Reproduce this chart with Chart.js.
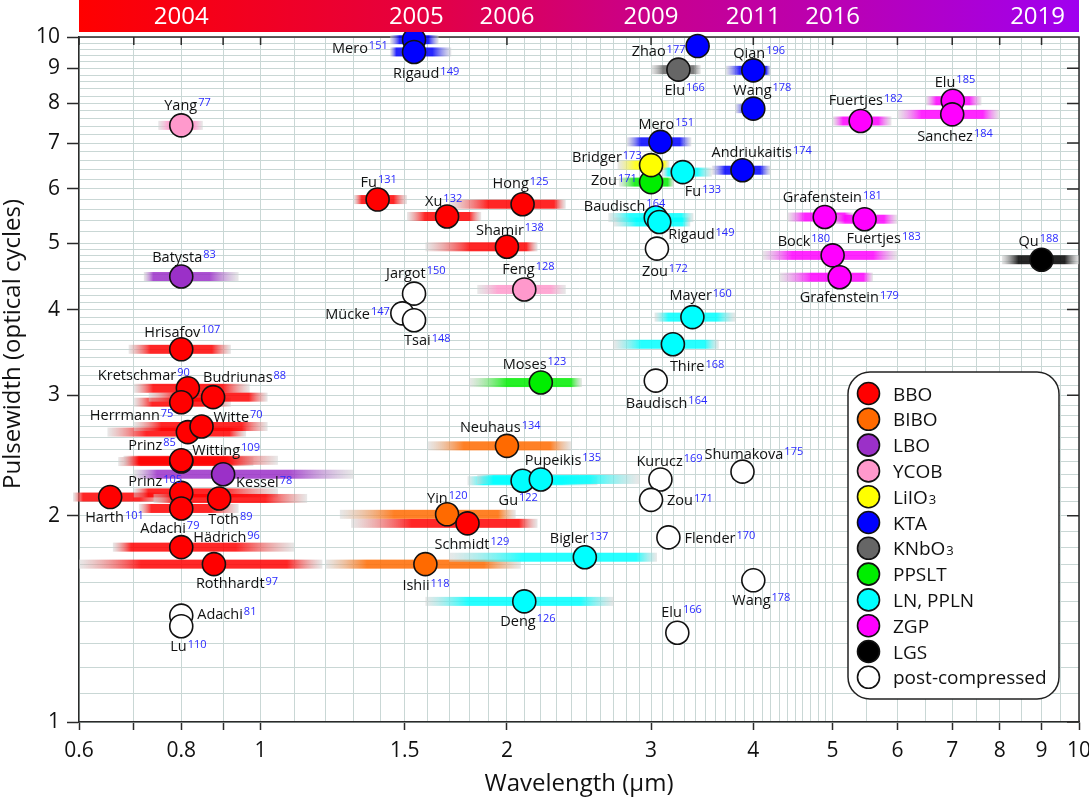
<!DOCTYPE html>
<html><head><meta charset="utf-8">
<script src="https://cdn.jsdelivr.net/npm/chart.js@4.4.0/dist/chart.umd.min.js"></script>
<style>html,body{margin:0;padding:0;background:#fff;}canvas{display:block;}</style>
</head><body>
<canvas id="c" width="1089" height="800"></canvas>
<script>
// ---------- data ----------
const materials = ['BBO','BIBO','LBO','YCOB','LiIO3','KTA','KNbO3','PPSLT','LN, PPLN','ZGP','LGS','post-compressed'];
const materialColors = ['#ff0000','#ff6a00','#9b30c8','#ff99cc','#ffff00','#0000ff','#666666','#00ee00','#00ffff','#ff00ff','#000000','#ffffff'];

const authors = ['Harth','Prinz','Adachi','Toth','Prinz','Witting','Herrmann','Witte','Kretschmar','','Budriunas','Hrisafov','Hädrich','Rothhardt','Fu','Xu','Hong','Shamir','Schmidt',
  'Yin','Neuhaus','Ishii','Batysta','Kessel','Yang','Feng','Bridger',
  'Mero','Rigaud','Zhao','Qian','Wang','Mero','Andriukaitis','Elu','Zou','Moses',
  'Fu','Baudisch','Rigaud','Mayer','Thire','Gu','Pupeikis','Bigler','Deng',
  'Elu','Sanchez','Fuertjes','Grafenstein','Fuertjes','Bock','Grafenstein','Qu',
  'Jargot','Mücke','Tsai','Zou','Baudisch','Kurucz','Zou','Shumakova','Flender','Wang','Elu','Adachi','Lu'];
const refs = ['101','105','79','89','85','109','75','70','90','','88','107','96','97','131','132','125','138','129',
  '120','134','118','83','78','77','128','173',
  '151','149','177','196','178','151','174','166','171','123',
  '133','164','149','160','168','122','135','137','126',
  '185','184','182','181','183','180','179','188',
  '150','147','148','172','164','169','171','175','170','178','166','81','110'];
const material = [0,0,0,0,0,0,0,0,0,0,0,0,0,0,0,0,0,0,0,
  1,1,1,2,2,3,3,4,
  5,5,5,5,5,5,5,6,7,7,
  8,8,8,8,8,8,8,8,8,
  9,9,9,9,9,9,9,10,
  11,11,11,11,11,11,11,11,11,11,11,11,11];
const wavelength = [0.655,0.80,0.80,0.89,0.80,0.80,0.815,0.847,0.815,0.80,0.875,0.80,0.80,0.877,1.39,1.69,2.09,2.00,1.79,
  1.69,2.00,1.59,0.80,0.90,0.80,2.10,3.00,
  1.54,1.54,3.42,4.00,4.00,3.08,3.88,3.24,3.00,2.20,
  3.28,3.04,3.07,3.37,3.19,2.09,2.20,2.49,2.10,
  7.01,7.00,5.41,4.89,5.47,5.00,5.10,9.0,
  1.54,1.49,1.54,3.05,3.04,3.08,3.00,3.88,3.15,4.00,3.23,0.80,0.80];
const cycles = [2.13,2.16,2.05,2.12,2.40,2.41,2.65,2.70,3.07,2.93,2.98,3.50,1.80,1.70,5.79,5.47,5.70,4.94,1.95,
  2.01,2.53,1.70,4.47,2.30,7.43,4.28,6.50,
  9.91,9.51,9.70,8.94,7.86,7.03,6.39,8.96,6.14,3.13,
  6.35,5.45,5.37,3.90,3.56,2.25,2.26,1.74,1.50,
  8.07,7.71,7.54,5.46,5.42,4.80,4.46,4.73,
  4.22,3.95,3.86,4.91,3.15,2.26,2.11,2.32,1.86,1.61,1.35,1.43,1.38];
const bandLo = [0.59,0.70,0.71,0.74,0.67,0.68,0.65,0.70,0.70,0.70,0.73,0.69,0.66,0.60,1.30,1.51,1.70,1.59,1.29,
  1.25,1.60,1.20,0.72,0.70,0.75,1.84,2.73,
  1.44,1.44,null,3.70,3.80,2.80,3.56,3.00,2.74,1.80,
  3.10,2.66,2.70,3.03,2.70,1.79,1.84,1.70,1.59,
  6.5,6.0,5.0,4.4,5.0,4.1,4.3,8.05,
  null,null,null,null,null,null,null,null,null,null,null,null,null];
const bandHi = [0.78,1.05,0.94,1.14,0.98,1.05,0.96,1.02,0.97,0.92,1.02,0.92,1.10,1.19,1.51,1.86,2.36,2.18,2.18,
  2.05,2.40,2.08,0.94,1.30,0.85,2.36,3.16,
  1.65,1.71,null,4.20,4.10,3.36,4.20,3.45,3.20,2.47,
  3.56,3.38,3.35,3.80,3.63,2.58,2.90,3.05,2.70,
  7.6,8.0,5.9,5.3,6.0,6.0,5.6,10.0,
  null,null,null,null,null,null,null,null,null,null,null,null,null];

const xGridValues = [];
for (let v = 6; v <= 50; v++) xGridValues.push(v / 10);
for (let v = 11; v <= 20; v++) xGridValues.push(v / 2);
const xTickLabels = [0.6, 0.8, 1, 1.5, 2, 3, 4, 5, 6, 7, 8, 9, 10];
const xTickMarks = [0.6, 0.7, 0.8, 0.9, 1, 1.5, 2, 3, 4, 5, 6, 7, 8, 9, 10];
const yGridValues = [];
for (let v = 10; v <= 50; v++) yGridValues.push(v / 10);
for (let v = 26; v <= 50; v++) yGridValues.push(v / 5);
const yTickLabels = [1, 2, 3, 4, 5, 6, 7, 8, 9, 10];

const yearLabels = ['2004','2005','2006','2009','2011','2016','2019'];
const yearWavelength = [0.8, 1.55, 2.0, 3.0, 4.0, 5.0, 8.9];

// ---------- layout (label placement offsets in px) ----------
const labelDx = [-25,-53,-41,-11,-53,11,-98,12,-90,0,-10,-37,12,-18,-17,-22,-30,-31,-33,
  -20,-47,-23,-29,13,-17,-22,-79,
  -82,-21,-66,-20,-20,-22,-31,-14,-60,-38,
  2,-72,9,-23,-3,-24,-16,-35,-24,
  -18,-35,-32,-42,-18,-55,-40,-23,
  -28,-77,-10,-15,-30,-24,16,-38,16,-21,-16,16,-11];
const labelDy = [20,-12,19,20,-17,-11,-17,-10,-14,0,-20,-18,-10,19,-18,-16,-21,-17,20,
  -17,-19,21,-20,8,-21,-21,-8,
  8,21,5,-18,-19,-18,-18,20,-2,-19,
  19,-12,12,-22,22,19,-20,-19,19,
  -19,21,-21,-20,19,-15,20,-19,
  -21,0,20,22,22,-19,0,-18,0,19,-21,-2,20];

const FONT = '"Open Sans", "DejaVu Sans", sans-serif';
const GRID = '#c9d7d5';
const AXIS = '#2a2a2a';

function hexToRgba(hex, a) {
  const n = parseInt(hex.slice(1), 16);
  return `rgba(${(n >> 16) & 255},${(n >> 8) & 255},${n & 255},${a})`;
}

const datasets = materials.map((m, k) => {
  const idx = authors.map((_, i) => i).filter(i => material[i] === k);
  return {
    label: m,
    idx,
    data: idx.map(i => ({ x: wavelength[i], y: cycles[i] })),
    backgroundColor: materialColors[k],
    borderColor: '#111',
    borderWidth: 1.6,
    pointRadius: 11.5,
    pointHoverRadius: 11.5,
    clip: false
  };
});

const bandPlugin = {
  id: 'bands',
  beforeDatasetsDraw(chart) {
    const { ctx, scales: { x, y }, chartArea } = chart;
    ctx.save();
    ctx.strokeStyle = AXIS; ctx.lineWidth = 1.5;
    ctx.beginPath();
    ctx.moveTo(chartArea.left, chartArea.top); ctx.lineTo(chartArea.right, chartArea.top);
    ctx.lineTo(chartArea.right, chartArea.bottom);
    xTickMarks.forEach(v => { const px = x.getPixelForValue(v); ctx.moveTo(px, chartArea.top); ctx.lineTo(px, chartArea.top + 8); });
    yTickLabels.forEach(v => { const py = y.getPixelForValue(v); ctx.moveTo(chartArea.right, py); ctx.lineTo(chartArea.right - 12, py); });
    ctx.stroke();
    ctx.fillStyle = '#111';
    ctx.font = '21px ' + FONT;
    ctx.textAlign = 'center';
    ctx.textBaseline = 'middle';
    xTickLabels.forEach(v => ctx.fillText(String(v), x.getPixelForValue(v), chartArea.bottom + 29));
    for (let i = 0; i < authors.length; i++) {
      if (bandLo[i] == null) continue;
      const x0 = x.getPixelForValue(bandLo[i]);
      const x1 = x.getPixelForValue(bandHi[i]);
      const xp = x.getPixelForValue(wavelength[i]);
      const yc = y.getPixelForValue(cycles[i]);
      const p = (xp - x0) / (x1 - x0);
      const g = ctx.createLinearGradient(x0, 0, x1, 0);
      const col = materialColors[material[i]];
      g.addColorStop(0, 'rgba(210,210,210,0.5)');
      g.addColorStop(Math.max(0.1, Math.min(0.4, p - 0.3)), hexToRgba(col, 0.85));
      g.addColorStop(Math.min(0.9, Math.max(0.6, p + 0.3)), hexToRgba(col, 0.85));
      g.addColorStop(1, 'rgba(210,210,210,0.5)');
      ctx.fillStyle = g;
      ctx.fillRect(x0, yc - 4.5, x1 - x0, 9);
    }
    ctx.restore();
  },
  afterDatasetsDraw(chart) {
    const { ctx } = chart;
    ctx.save();
    chart.data.datasets.forEach((ds, k) => {
      const meta = chart.getDatasetMeta(k);
      meta.data.forEach((el, j) => {
        const i = ds.idx[j];
        if (!authors[i]) return;
        const bx = el.x + labelDx[i];
        const by = el.y + labelDy[i] + 5.2;
        ctx.font = '14.5px ' + FONT;
        ctx.fillStyle = '#111';
        ctx.textAlign = 'left';
        ctx.textBaseline = 'alphabetic';
        ctx.fillText(authors[i], bx, by);
        const w = ctx.measureText(authors[i]).width;
        ctx.font = '11px ' + FONT;
        ctx.fillStyle = '#2a2aff';
        ctx.fillText(refs[i], bx + w + 1, by - 3.5);
      });
    });
    ctx.restore();
  },
  afterDraw(chart) {
    const { ctx, chartArea, scales: { x } } = chart;
    ctx.save();
    const g = ctx.createLinearGradient(chartArea.left, 0, chartArea.right, 0);
    g.addColorStop(0, '#ff0000');
    g.addColorStop(0.33, '#e6003e');
    g.addColorStop(0.58, '#c8008e');
    g.addColorStop(0.78, '#b800b8');
    g.addColorStop(1, '#a000f0');
    ctx.fillStyle = g;
    ctx.fillRect(chartArea.left, 0, chartArea.right - chartArea.left, 32);
    ctx.fillStyle = '#fff';
    ctx.font = '24px ' + FONT;
    ctx.textAlign = 'center';
    ctx.textBaseline = 'middle';
    yearLabels.forEach((t, k) => ctx.fillText(t, x.getPixelForValue(yearWavelength[k]), 17));
    ctx.save();
    ctx.translate(13, 344);
    ctx.rotate(-Math.PI / 2);
    ctx.fillStyle = '#111';
    ctx.font = '24px ' + FONT;
    ctx.fillText('Pulsewidth (optical cycles)', 0, 0);
    ctx.restore();
    const lx = 848, ly = 372, lw = 211, lh = 327;
    ctx.beginPath();
    ctx.roundRect(lx, ly, lw, lh, 22);
    ctx.fillStyle = '#fff';
    ctx.fill();
    ctx.lineWidth = 1.5;
    ctx.strokeStyle = '#222';
    ctx.stroke();
    materials.forEach((m, k) => {
      const cy = 393.5 + k * 25.8;
      ctx.beginPath();
      ctx.arc(868.5, cy, 11, 0, Math.PI * 2);
      ctx.fillStyle = materialColors[k];
      ctx.fill();
      ctx.lineWidth = 1.6;
      ctx.strokeStyle = '#111';
      ctx.stroke();
      ctx.fillStyle = '#111';
      ctx.textAlign = 'left';
      ctx.textBaseline = 'alphabetic';
      const mm = /^(.*\D)(\d)$/.exec(m);
      ctx.font = '19px ' + FONT;
      if (mm) {
        ctx.fillText(mm[1], 893, cy + 7);
        const w = ctx.measureText(mm[1]).width;
        ctx.font = '13px ' + FONT;
        ctx.fillText(mm[2], 893 + w + 1, cy + 7);
      } else {
        ctx.fillText(m, 893, cy + 7);
      }
    });
    ctx.restore();
  }
};

new Chart(document.getElementById('c'), {
  type: 'scatter',
  data: { datasets },
  options: {
    responsive: false,
    devicePixelRatio: 1,
    animation: false,
    events: [],
    layout: { autoPadding: false, padding: { top: 37, right: 10, left: 0, bottom: 0 } },
    plugins: { legend: { display: false }, tooltip: { enabled: false } },
    scales: {
      x: {
        type: 'logarithmic',
        min: 0.6, max: 10,
        afterBuildTicks: s => { s.ticks = xGridValues.map(v => ({ value: v })); },
        afterFit: s => { s.height = 78; s.paddingLeft = 0; s.paddingRight = 0; },
        ticks: { display: false, autoSkip: false, maxRotation: 0, minRotation: 0 },
        grid: {
          color: GRID, lineWidth: 1, tickLength: 8,
          tickColor: c => (c.tick && xTickMarks.includes(c.tick.value)) ? AXIS : 'rgba(0,0,0,0)',
          tickWidth: 1.5
        },
        border: { display: true, color: AXIS, width: 1.5 },
        title: { display: true, text: 'Wavelength (μm)', color: '#111', font: { family: FONT, size: 24 }, padding: { top: 0, bottom: 1 } }
      },
      y: {
        type: 'logarithmic',
        min: 1, max: 10,
        afterBuildTicks: s => { s.ticks = yGridValues.map(v => ({ value: v })); },
        afterFit: s => { s.width = 79; s.paddingTop = 0; s.paddingBottom = 0; },
        ticks: {
          autoSkip: false,
          padding: 7,
          color: '#111',
          font: { family: FONT, size: 21 },
          callback: v => yTickLabels.includes(v) ? String(v) : ''
        },
        grid: {
          color: GRID, lineWidth: 1, tickLength: 12,
          tickColor: c => (c.tick && yTickLabels.includes(c.tick.value)) ? AXIS : 'rgba(0,0,0,0)',
          tickWidth: 1.5
        },
        border: { display: true, color: AXIS, width: 1.5 }
      }
    }
  },
  plugins: [bandPlugin]
});
</script>
</body></html>
